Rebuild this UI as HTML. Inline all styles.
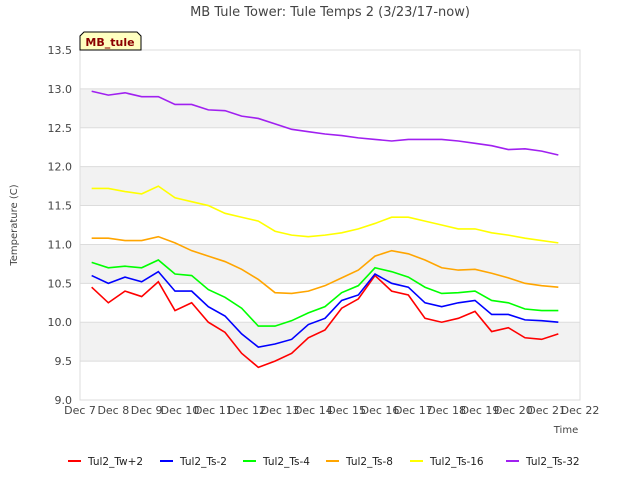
<!DOCTYPE html>
<html><head><meta charset="utf-8"><style>
body{margin:0;background:#fff;font-family:"Liberation Sans","DejaVu Sans",sans-serif}
svg text{font-family:"DejaVu Sans","Liberation Sans",sans-serif}
</style></head><body>
<svg id="c" width="640" height="480"></svg>
<script>
const times=[0.35,0.85,1.35,1.85,2.35,2.85,3.35,3.85,4.35,4.85,5.35,5.85,6.35,6.85,7.35,7.85,8.35,8.85,9.35,9.85,10.35,10.85,11.35,11.85,12.35,12.85,13.35,13.85,14.35];
const seriesNames=["Tul2_Tw+2","Tul2_Ts-2","Tul2_Ts-4","Tul2_Ts-8","Tul2_Ts-16","Tul2_Ts-32"];
const seriesColors=["#ff0000","#0000ff","#00ff00","#ffa500","#ffff00","#a020f0"];
const tw2=[10.45,10.25,10.4,10.33,10.52,10.15,10.25,10.0,9.87,9.6,9.42,9.5,9.6,9.8,9.9,10.18,10.3,10.6,10.4,10.35,10.05,10.0,10.05,10.14,9.88,9.93,9.8,9.78,9.85];
const ts2=[10.6,10.5,10.58,10.52,10.65,10.4,10.4,10.2,10.08,9.85,9.68,9.72,9.78,9.97,10.05,10.28,10.35,10.62,10.5,10.45,10.25,10.2,10.25,10.28,10.1,10.1,10.03,10.02,10.0];
const ts4=[10.77,10.7,10.72,10.7,10.8,10.62,10.6,10.42,10.32,10.18,9.95,9.95,10.02,10.12,10.2,10.38,10.47,10.7,10.65,10.58,10.45,10.37,10.38,10.4,10.28,10.25,10.17,10.15,10.15];
const ts8=[11.08,11.08,11.05,11.05,11.1,11.02,10.92,10.85,10.78,10.68,10.55,10.38,10.37,10.4,10.47,10.57,10.67,10.85,10.92,10.88,10.8,10.7,10.67,10.68,10.63,10.57,10.5,10.47,10.45];
const ts16=[11.72,11.72,11.68,11.65,11.75,11.6,11.55,11.5,11.4,11.35,11.3,11.17,11.12,11.1,11.12,11.15,11.2,11.27,11.35,11.35,11.3,11.25,11.2,11.2,11.15,11.12,11.08,11.05,11.02];
const ts32=[12.97,12.92,12.95,12.9,12.9,12.8,12.8,12.73,12.72,12.65,12.62,12.55,12.48,12.45,12.42,12.4,12.37,12.35,12.33,12.35,12.35,12.35,12.33,12.3,12.27,12.22,12.23,12.2,12.15];
const yTicks=[9.0,9.5,10.0,10.5,11.0,11.5,12.0,12.5,13.0,13.5];
const xTickLabels=["Dec 7","Dec 8","Dec 9","Dec 10","Dec 11","Dec 12","Dec 13","Dec 14","Dec 15","Dec 16","Dec 17","Dec 18","Dec 19","Dec 20","Dec 21","Dec 22"];
const allSeries=[tw2,ts2,ts4,ts8,ts16,ts32];

const X0=80,X1=580,Y0=400,Y1=50;
const xs=d=>X0+(d/15)*(X1-X0);
const ys=v=>Y0-(v-9)/4.5*(Y0-Y1);
const svg=document.getElementById('c');
const NS='http://www.w3.org/2000/svg';
function mk(t,a,p){const e=document.createElementNS(NS,t);for(const k in a)e.setAttribute(k,a[k]);(p||svg).appendChild(e);return e;}

for(let i=0;i<yTicks.length-1;i++){
  if(i%2===1){const r=mk('rect',{x:X0,y:ys(yTicks[i+1]),width:X1-X0,height:ys(yTicks[i])-ys(yTicks[i+1]),fill:'#f2f2f2'});
  
  }
}
yTicks.forEach(v=>{
  const l=mk('line',{x1:X0,x2:X1,y1:ys(v),y2:ys(v),stroke:'#dcdcdc','stroke-width':1});
  
  
  const t=mk('text',{x:X0-8,y:ys(v)+4,'text-anchor':'end','font-size':11,fill:'#444'});
  t.textContent=v.toFixed(1);
  
  
});
const frame=mk('rect',{x:X0,y:Y1,width:X1-X0,height:Y0-Y1,fill:'none',stroke:'#dcdcdc'});


xTickLabels.forEach((s,i)=>{
  const t=mk('text',{x:xs(i),y:414,'text-anchor':'middle','font-size':11,fill:'#444'});
  t.textContent=s;
  
  
});
allSeries.forEach((arr,si)=>{
  const p=mk('polyline',{points:arr.map((v,i)=>xs(times[i])+','+ys(v)).join(' '),fill:'none',stroke:seriesColors[si],'stroke-width':1.6});
  
  
});
const lx=[68,160,243,326,410,506];
seriesNames.forEach((n,i)=>{
  const g=mk('g',{});
  
  
  mk('line',{x1:lx[i],x2:lx[i]+13,y1:461,y2:461,stroke:seriesColors[i],'stroke-width':2},g);
  const t=mk('text',{x:lx[i]+20,y:465,'font-size':10.5,fill:'#222'},g);
  t.textContent=n;
});
</script>
<svg style="position:absolute;left:0;top:0" width="640" height="480">
<text x="330" y="16" text-anchor="middle" font-size="13" fill="#444">MB Tule Tower: Tule Temps 2 (3/23/17-now)</text>
<text transform="translate(17,225) rotate(-90)" text-anchor="middle" font-size="10" fill="#444">Temperature (C)</text>
<text x="566" y="433" text-anchor="middle" font-size="10" fill="#444">Time</text>
<g>
<path d="M84,32 L137,32 L141,36 L141,50 L80,50 L80,36 Z" fill="#ffffc0" stroke="#000" stroke-width="1"/>
<text x="110" y="46" text-anchor="middle" font-size="11" font-weight="bold" fill="#8b0000">MB_tule</text>
</g>
</svg>
</body></html>
